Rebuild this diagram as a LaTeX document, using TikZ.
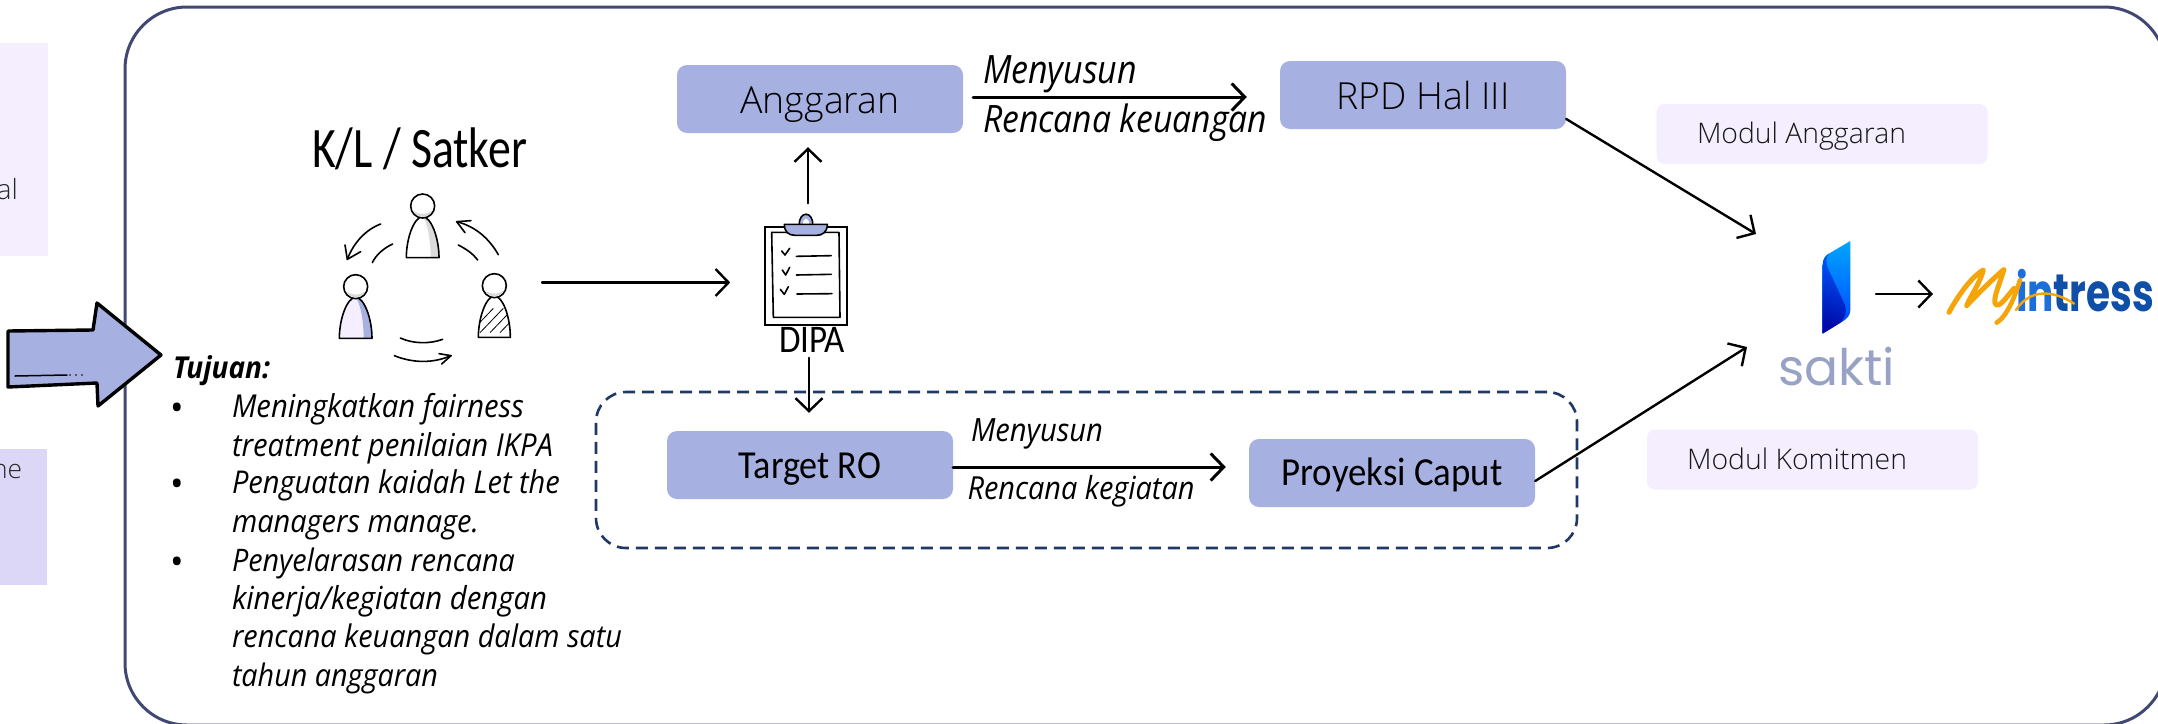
\documentclass[tikz,border=0pt]{standalone}
\usepackage{fontspec}
\usepackage{graphicx}
\setmainfont{Carlito}
\newfontfamily\osans{Open Sans}
\newfontfamily\oslight{Open Sans Light}
\newfontfamily\popp{Poppins}
\usetikzlibrary{arrows.meta}
\definecolor{frameC}{HTML}{424874}
\definecolor{boxC}{HTML}{A6B1E1}
\definecolor{paleC}{HTML}{F4EEFF}
\definecolor{midC}{HTML}{DCD6F7}
\definecolor{dashC}{HTML}{1F3864}
\definecolor{orgC}{HTML}{F5A50A}
\definecolor{inkC}{HTML}{0F4FA8}
\definecolor{inkL}{HTML}{1C6FD8}
\definecolor{saktiC}{HTML}{98A2C4}
\newcommand\fitw[2]{\resizebox{#1pt}{!}{#2}}
\newcommand\fitv[3]{\scalebox{1}[#2]{\resizebox{#1pt}{!}{#3}}}
\tikzset{
  fbox/.style={fill=boxC,rounded corners=10pt,inner sep=0pt,minimum width=286pt,minimum height=68pt},
  modul/.style={fill=paleC,rounded corners=8pt,inner sep=0pt,minimum width=331pt,minimum height=60pt,text=black!90},
  lab/.style={inner sep=0pt,outer sep=0pt,anchor=base west},
  conn/.style={line width=2.4pt,line cap=round,-{Straight Barb[length=13pt,width=27pt]}},
  zoomed/.style={x=0.33333pt,y=-0.33333pt},
  hand/.style={line width=1.6pt,line cap=round,line join=round}
}
\newcommand\personfig[4]{%
  \begin{scope}[shift={(#1,#2)}]
    \path[fill=#3] (-49,0) .. controls (-49,-60) and (-25,-123) .. (0,-123) .. controls (25,-123) and (49,-60) .. (49,0) -- cycle;
    \path[fill=#4] (24,0) .. controls (24,-50) and (15,-105) .. (0,-123) .. controls (25,-123) and (49,-60) .. (49,0) -- cycle;
    \draw[hand] (-49,0) .. controls (-49,-60) and (-25,-123) .. (0,-123) .. controls (25,-123) and (49,-60) .. (49,0) -- cycle;
    \draw[hand,fill=white] (0,-155) circle [radius=36];
    \path[fill=black!15] (-28,-140) .. controls (-10,-128) and (10,-128) .. (28,-140) .. controls (15,-117) and (-15,-117) .. (-28,-140) -- cycle;
  \end{scope}}
\begin{document}
\begin{tikzpicture}[x=1pt,y=-1pt]
\useasboundingbox (0,0) rectangle (2158,723);
\clip (0,0) rectangle (2158,723);
% left cropped panels
\node[fill=paleC,inner sep=0pt,minimum width=48pt,minimum height=213pt] (panelA) at (24,149.5) {};
\node[fill=midC,inner sep=0pt,minimum width=47pt,minimum height=136pt] (panelB) at (23.5,517) {};
\node[lab,anchor=base east,text=black!85] (tal) at (18,199) {\fitw{21}{\oslight al}};
\node[lab,anchor=base east,text=black!85] (tne) at (22,478) {\fitw{30}{\oslight ne}};
% main frame
\draw[frameC,line width=3pt,rounded corners=62pt] (125,7) rectangle (2166,725);
% big arrow
\draw[fill=boxC,line width=3.4pt,line join=round] (8,331) -- (93,330) -- (97,303) -- (161,355) -- (98,406) -- (97,383) -- (8,387) -- cycle;
\draw[line width=1.5pt,line cap=round] (15,376) -- (67,375);
\draw[line width=1.8pt,line cap=round,dash pattern=on 0pt off 6pt] (70,375) -- (84,375);
% objective text
\node[lab] (tujuan) at (173,378) {\fitv{97}{1.08}{\osans\bfseries\itshape Tujuan:}};
\foreach \i/\y/\w/\txt in {1/417/292/Meningkatkan fairness,2/456/321/treatment penilaian IKPA,3/493/328/Penguatan kaidah Let the,4/532/247/managers manage.,5/571/283/Penyelarasan rencana,6/609/315/kinerja\slash kegiatan dengan,7/647/390/rencana keuangan dalam satu,8/686/206/tahun anggaran}
  \node[lab] (t\i) at (232,\y) {\fitv{\w}{1.08}{\osans\itshape \txt}};
\foreach \i/\y in {1/420,3/496,5/574}
  \node[lab,anchor=base,font=\osans\fontsize{36}{38}\selectfont] (b\i) at (177,\y) {•};
% K/L title
\node[lab] (kl) at (312,167) {\fitv{215}{1.25}{K/L / Satker}};
% people group
\begin{scope}[shift={(290,110)},zoomed]
  \personfig{398}{443}{white}{black!14}
  \personfig{197}{685}{paleC}{boxC}
  \begin{scope}
    \clip (565,682) .. controls (565,620) and (590,558) .. (613,558) .. controls (638,558) and (661,620) .. (661,682) -- cycle;
    \foreach \k in {560,590,620,650,680}
      \draw[line width=0.8pt] (\k-20,668) -- (\k+50,595);
  \end{scope}
  \draw[hand] (565,682) .. controls (565,620) and (590,558) .. (613,558) .. controls (638,558) and (661,620) .. (661,682) -- cycle;
  \draw[hand,fill=white] (613,527) circle [radius=36];
  \path[fill=black!15] (585,542) .. controls (603,554) and (623,554) .. (641,542) .. controls (628,565) and (598,565) .. (585,542) -- cycle;
  % rotating arrows
  \draw[hand] (272,342) .. controls (225,360) and (190,400) .. (172,448);
  \draw[hand] (165,405) -- (172,448) -- (212,425);
  \draw[hand] (308,402) .. controls (280,415) and (258,435) .. (247,458);
  \draw[hand] (625,434) .. controls (600,390) and (560,350) .. (500,335);
  \draw[hand] (543,332) -- (500,335) -- (525,368);
  \draw[hand] (505,405) .. controls (530,418) and (550,432) .. (563,450);
  \draw[hand] (313,737) .. controls (370,760) and (430,760) .. (483,737);
  \draw[hand] (447,731) -- (483,737) -- (455,762);
  \draw[hand] (331,684) .. controls (370,702) and (420,702) .. (458,688);
\end{scope}
\coordinate (peopleout) at (542,282.5);
% clipboard
\node[draw,line width=1.6pt,fill=white,inner sep=0pt,minimum width=82pt,minimum height=98pt] (dipa) at (806,276) {};
\node[lab,anchor=base] (dipalabel) at (812,352) {\fitv{66}{1.12}{DIPA}};
\begin{scope}[shift={(720,180)},zoomed]
  \draw[hand,fill=white] (155,157) -- (357,157) -- (360,412) -- (160,412) -- cycle;
  \draw[hand,fill=boxC] (238,135) .. controls (236,92) and (280,92) .. (278,135) -- cycle;
  \fill[white] (250,133) .. controls (250,112) and (268,112) .. (268,133) -- cycle;
  \draw[hand,fill=boxC] (193,133) -- (322,133) .. controls (322,158) and (305,166) .. (290,166) -- (225,166) .. controls (205,166) and (193,155) .. (193,133) -- cycle;
  \draw[hand] (185,213) -- (195,225) -- (209,205);
  \draw[hand] (187,270) -- (197,285) -- (209,262);
  \draw[hand] (181,328) -- (193,343) -- (205,320);
  \draw[hand] (229,229) -- (334,227);
  \draw[hand] (229,285) -- (334,283);
  \draw[hand] (231,342) -- (336,341);
\end{scope}
% boxes
\node[fbox,text height=30pt,text depth=2pt] (anggaran) at (820,99) {\fitw{159}{\oslight Anggaran}};
\node[fbox,text height=30pt,text depth=2pt] (rpd) at (1423,95) {\fitw{173}{\oslight RPD Hal III}};
\node[draw=dashC,line width=2.6pt,dash pattern=on 12pt off 7pt,rounded corners=30pt,inner sep=0pt,minimum width=981pt,minimum height=156pt] (group) at (1086.5,470) {};
\node[fbox,text height=28pt,text depth=2pt] (target) at (810,465) {\fitv{142}{1.1}{Target RO}};
\node[fbox,text height=26pt,text depth=2pt] (proyeksi) at (1392,473) {\fitv{221}{1.08}{Proyeksi Caput}};
\node[modul,text height=20pt,text depth=2pt] (modA) at (1822,134) {\fitw{209}{\oslight Modul Anggaran}\hspace*{41pt}};
\node[modul,text height=21pt,text depth=2pt] (modK) at (1812.5,459.5) {\fitw{220}{\oslight Modul Komitmen}\hspace*{31pt}};
% connector labels
\node[lab] (m1) at (983,83) {\fitv{154}{1.15}{\osans\itshape Menyusun}};
\node[lab] (r1) at (983,132) {\fitv{284}{1.12}{\osans\itshape Rencana keuangan}};
\node[lab] (m2) at (971,441) {\fitv{132}{1.1}{\osans\itshape Menyusun}};
\node[lab] (r2) at (967.5,499) {\fitv{227}{1.1}{\osans\itshape Rencana kegiatan}};
% sakti logo
\begin{scope}[shift={(1790,235)},zoomed]
  \path[top color=blue!35!cyan,bottom color=blue!75!cyan,shading angle=0] (181,18) -- (181,225) .. controls (181,240) and (172,250) .. (160,258) -- (98,296) -- (98,90) .. controls (98,72) and (106,62) .. (118,55) -- cycle;
  \path[left color=blue!70!cyan,right color=blue!60!black,shading angle=-25,opacity=0.85] (118,55) .. controls (105,70) and (108,85) .. (114,100) -- (165,210) .. controls (171,230) and (166,248) .. (150,264) -- (98,296) -- (98,90) .. controls (98,72) and (106,62) .. (118,55) -- cycle;
\end{scope}
\node[lab,text=saktiC] (sakti) at (1778,385) {\fitw{117}{\popp sakti}};
% Myintress logo
\node[lab,text=inkC] (intress) at (2016,311) {\fitv{138}{1.35}{\popp\bfseries{\color{inkL}in}tress}};
\begin{scope}[shift={(1930,255)},zoomed]
  \draw[orgC,line width=5pt,line cap=round,line join=round] (57,172) .. controls (85,120) and (125,65) .. (160,45) .. controls (150,85) and (120,125) .. (110,152) .. controls (140,120) and (190,70) .. (222,43) .. controls (210,85) and (190,125) .. (195,145) .. controls (205,165) and (230,125) .. (252,100);
  \draw[orgC,line width=4.6pt,line cap=round] (270,75) .. controls (255,125) and (230,185) .. (200,203);
  \draw[orgC,line width=2.4pt,line cap=round] (258,165) .. controls (300,100) and (370,105) .. (432,146);
\end{scope}
% connectors
\coordinate (aOut) at ([xshift=10pt,yshift=2pt]anggaran.east);
\draw[conn,line width=3pt,shorten >=33pt] (aOut) -- (aOut -| rpd.west);
\coordinate (tOut) at ([yshift=-2pt]target.east);
\draw[conn,line width=3pt,shorten >=23pt] (tOut) -- (tOut -| proyeksi.west);
\draw[conn,shorten >=34pt] (peopleout) -- (peopleout -| dipa.west);
\coordinate (dUp) at ([xshift=2pt,yshift=23pt]dipa.north);
\draw[conn,shorten >=14pt] (dUp) -- (dUp |- anggaran.south);
\coordinate (dDown) at ([xshift=3pt,yshift=-32pt]dipa.south);
\draw[conn,shorten >=18pt] (dDown) -- (dDown |- target.north);
\coordinate (skTop) at (1756,234);
\coordinate (skBot) at (1747,347);
\coordinate (skOut) at (1876,294);
\coordinate (myIn) at (1933,294);
\draw[conn] ([yshift=-24pt]rpd.east) -- (skTop);
\draw[conn] ([yshift=-8pt]proyeksi.east) -- (skBot);
\draw[conn] (skOut) -- (myIn);
\end{tikzpicture}
\end{document}
